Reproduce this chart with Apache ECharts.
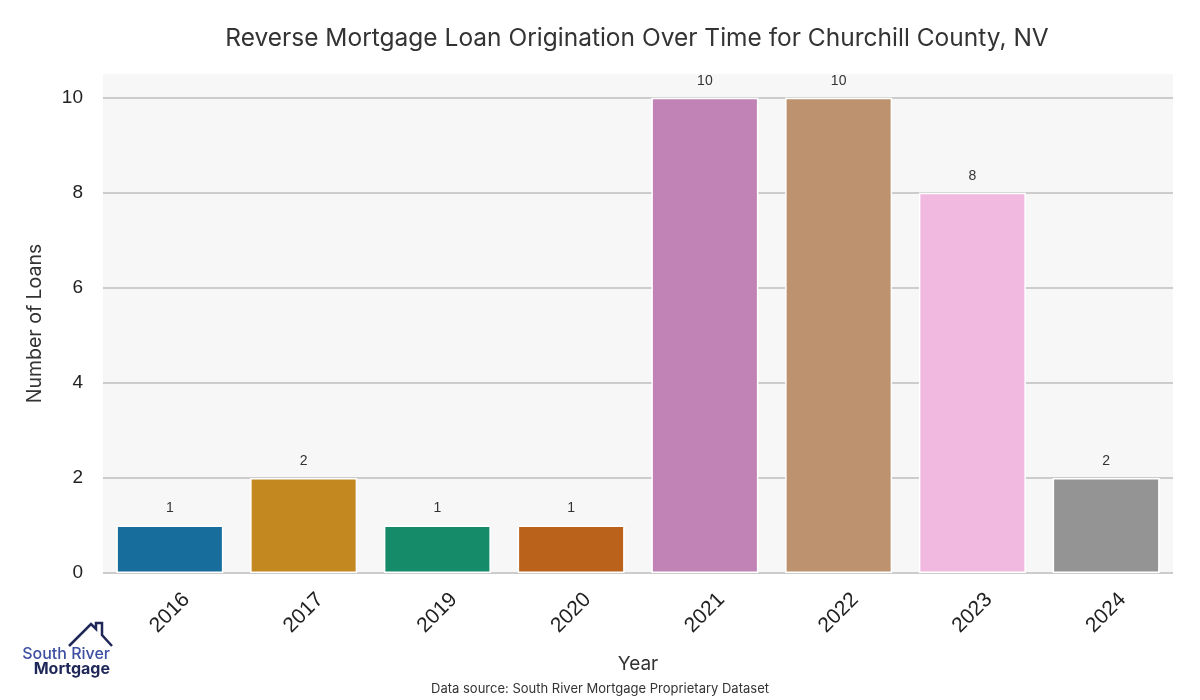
<!DOCTYPE html>
<html><head><meta charset="utf-8">
<script src="https://cdn.jsdelivr.net/npm/echarts@6/dist/echarts.min.js"></script>
<style>html,body{margin:0;padding:0;background:#fff}#c{width:1200px;height:700px}</style>
</head><body><div id="c"></div>
<script>
const years = ['2016','2017','2019','2020','2021','2022','2023','2024'];
const loans = [1, 2, 1, 1, 10, 10, 8, 2];
const barColors = ['#176d9c','#c38820','#158b6a','#ba611b','#c182b5','#bd926e','#f1b8e0','#949494'];
const yTicks = [0, 2, 4, 6, 8, 10];

const chart = echarts.init(document.getElementById('c'), null, {renderer:'canvas'});
const TF = 'Inter, "Noto Sans", sans-serif';
chart.setOption({
  animation: false,
  backgroundColor: '#fff',
  title: {
    text: 'Reverse Mortgage Loan Origination Over Time for Churchill County, NV',
    left: 632, top: 21, textAlign: 'center',
    textStyle: {fontFamily: TF, fontSize: 24.5, fontWeight: 'normal', color: '#333'}
  },
  grid: {left: 103, right: 27, top: 74, bottom: 127, show: true, backgroundColor: '#f7f7f7', borderWidth: 0},
  xAxis: {
    type: 'category', data: years,
    axisLine: {show: false}, axisTick: {show: false},
    axisLabel: {rotate: 45, align: 'center', verticalAlign: 'middle', margin: 40, fontSize: 21, color: '#222', fontFamily: '"Liberation Sans", Arial, sans-serif'},
    name: 'Year', nameLocation: 'middle', nameGap: 82,
    nameTextStyle: {fontFamily: TF, fontSize: 19, color: '#333'}
  },
  yAxis: {
    type: 'value', min: 0, max: 10.5, interval: 2,
    axisLine: {show: false}, axisTick: {show: false},
    axisLabel: {margin: 20, fontSize: 19, color: '#222', fontFamily: '"Liberation Sans", Arial, sans-serif',
      formatter: v => yTicks.includes(v) ? String(v) : ''},
    splitLine: {lineStyle: {color: ['#cccccc','#cccccc','#cccccc','#cccccc','#cccccc','#cccccc','rgba(0,0,0,0)'], width: 2}},
    name: 'Number of Loans', nameLocation: 'middle', nameGap: 58,
    nameTextStyle: {fontFamily: TF, fontSize: 19.5, color: '#333'}
  },
  series: [{
    type: 'bar', barWidth: '80%',
    data: loans.map((v, i) => ({value: v, itemStyle: {color: barColors[i]}})),
    itemStyle: {borderColor: '#ffffff', borderWidth: 1.5},
    label: {show: true, position: 'top', distance: 10, fontSize: 14, color: '#333', fontFamily: '"Liberation Sans", Arial, sans-serif'}
  }],
  graphic: [
    {type: 'text', left: 'center', top: 683, style: {text: 'Data source: South River Mortgage Proprietary Dataset', font: '13px ' + TF, fill: '#333'}},
    {type: 'polyline', shape: {points: [[69,646],[91,624],[96,629],[96,623],[102,623],[102,635],[112,646]]}, style: {stroke: '#1e2757', lineWidth: 2.5, fill: null, lineJoin: 'miter'}},
    {type: 'text', x: 110, y: 654, style: {text: 'South River', font: '500 16px ' + TF, fill: '#3d4fa1', textAlign: 'right', textVerticalAlign: 'middle'}},
    {type: 'text', x: 110, y: 669, style: {text: 'Mortgage', font: 'bold 16px ' + TF, fill: '#1e2757', textAlign: 'right', textVerticalAlign: 'middle'}}
  ]
});
</script></body></html>
